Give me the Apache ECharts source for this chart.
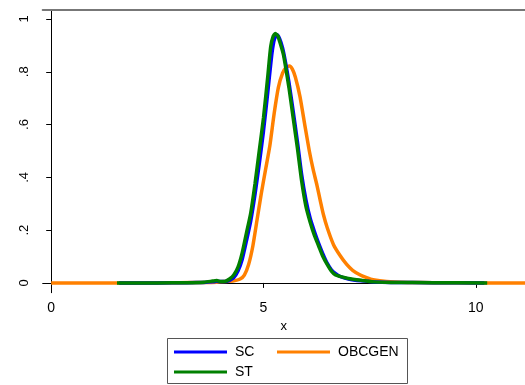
<!DOCTYPE html>
<html>
<head>
<meta charset="utf-8">
<script src="https://cdn.jsdelivr.net/npm/echarts@6/dist/echarts.min.js"></script>
<style>
  html, body { margin: 0; padding: 0; background: #fff; overflow: hidden; }
  #chart { width: 525px; height: 385px; }
</style>
</head>
<body>
<div id="chart"></div>
<script>
// kernel density estimates
const scX = [1.6, 2.5, 3.2, 3.6, 3.8, 3.9, 4.0, 4.1, 4.2, 4.3, 4.4, 4.5, 4.6, 4.7, 4.8, 4.9, 5.0, 5.1, 5.2, 5.26, 5.32, 5.38, 5.45, 5.52, 5.6, 5.7, 5.8, 5.9, 6.0, 6.1, 6.2, 6.3, 6.4, 6.5, 6.6, 6.7, 6.8, 7.0, 7.3, 7.6, 8.0, 9.0, 10.2];
const scY = [0, 0, 0.001, 0.002, 0.004, 0.006, 0.005, 0.005, 0.01, 0.02, 0.045, 0.09, 0.16, 0.235, 0.335, 0.45, 0.575, 0.72, 0.87, 0.925, 0.94, 0.925, 0.89, 0.835, 0.76, 0.65, 0.535, 0.41, 0.315, 0.245, 0.195, 0.15, 0.11, 0.075, 0.05, 0.035, 0.025, 0.015, 0.008, 0.004, 0.002, 0.001, 0];

const stX = [1.55, 2.5, 3.2, 3.6, 3.8, 3.9, 4.0, 4.1, 4.2, 4.3, 4.4, 4.5, 4.6, 4.7, 4.8, 4.9, 5.0, 5.1, 5.17, 5.23, 5.28, 5.34, 5.4, 5.47, 5.53, 5.6, 5.7, 5.8, 5.9, 6.0, 6.1, 6.2, 6.3, 6.4, 6.5, 6.6, 6.7, 6.8, 7.0, 7.3, 7.6, 8.0, 9.0, 10.27];
const stY = [0, 0, 0.001, 0.003, 0.007, 0.009, 0.005, 0.006, 0.015, 0.03, 0.06, 0.115, 0.19, 0.265, 0.375, 0.5, 0.625, 0.78, 0.895, 0.935, 0.945, 0.935, 0.905, 0.865, 0.81, 0.74, 0.625, 0.51, 0.385, 0.29, 0.23, 0.18, 0.14, 0.1, 0.07, 0.045, 0.03, 0.025, 0.017, 0.01, 0.004, 0.002, 0.001, 0];

const obcX = [0, 1, 2, 3, 3.6, 3.9, 4.1, 4.3, 4.45, 4.55, 4.65, 4.75, 4.85, 4.95, 5.05, 5.15, 5.25, 5.35, 5.45, 5.53, 5.61, 5.68, 5.75, 5.86, 5.98, 6.08, 6.17, 6.26, 6.34, 6.41, 6.5, 6.65, 6.8, 6.96, 7.1, 7.28, 7.43, 7.58, 7.9, 8.4, 9.0, 10.0, 11.16];
const obcY = [0, 0, 0, 0.001, 0.002, 0.003, 0.005, 0.008, 0.015, 0.03, 0.07, 0.14, 0.24, 0.34, 0.43, 0.52, 0.64, 0.74, 0.795, 0.815, 0.822, 0.81, 0.78, 0.706, 0.592, 0.5, 0.43, 0.37, 0.31, 0.26, 0.21, 0.145, 0.105, 0.07, 0.048, 0.03, 0.02, 0.012, 0.005, 0.002, 0.001, 0, 0];

const xTicks = [0, 5, 10];
const yTicks = [0, 0.2, 0.4, 0.6, 0.8, 1];
const yTickLabels = ["0", ".2", ".4", ".6", ".8", "1"];

const pairs = (xs, ys) => xs.map((x, i) => [x, ys[i]]);

const font = "Liberation Sans, Arial, sans-serif";
const chart = echarts.init(document.getElementById("chart"), null, { renderer: "canvas" });

const lineSeries = (name, color, xs, ys) => ({
  name,
  type: "line",
  data: pairs(xs, ys),
  showSymbol: false,
  smooth: 0.2,
  lineStyle: { color, width: 3.5 },
  itemStyle: { color },
  emphasis: { disabled: true },
});

const legendText = { fontFamily: font, fontSize: 14, color: "#000", lineHeight: 14, padding: [0, 0, 0, 3] };

chart.setOption({
  animation: false,
  backgroundColor: "#fff",
  grid: { left: 42.7, top: 10, right: 0, bottom: 92.3 },
  xAxis: [
    {
      type: "value",
      min: -0.2,
      max: 11.16,
      name: "x",
      nameLocation: "middle",
      nameGap: 24,
      nameTextStyle: { fontFamily: font, fontSize: 13, color: "#000" },
      axisLine: { lineStyle: { color: "#000", width: 1 } },
      axisTick: { show: true, length: 5, customValues: xTicks, lineStyle: { color: "#000" } },
      axisLabel: { customValues: xTicks, margin: 8, fontFamily: font, fontSize: 14, color: "#000" },
      splitLine: { show: false },
    },
    {
      // plain top border of the plot region
      type: "value",
      position: "top",
      min: -0.2,
      max: 11.16,
      axisLine: { lineStyle: { color: "#777", width: 2 } },
      axisTick: { show: false },
      axisLabel: { show: false },
      splitLine: { show: false },
    },
  ],
  yAxis: {
    type: "value",
    min: -0.037,
    max: 1.034,
    axisLine: { show: true, lineStyle: { color: "#000", width: 1 } },
    axisTick: { show: true, length: 5, customValues: yTicks, lineStyle: { color: "#000" } },
    axisLabel: {
      customValues: yTicks,
      rotate: 90,
      margin: 12,
      fontFamily: font,
      fontSize: 13,
      color: "#000",
      formatter: (v) => {
        const i = yTicks.findIndex((t) => Math.abs(t - v) < 1e-6);
        return i >= 0 ? yTickLabels[i] : "";
      },
    },
    splitLine: { show: false },
  },
  legend: [
    {
      data: ["SC", "ST"],
      orient: "vertical",
      left: 174, top: 345, padding: 0,
      itemWidth: 53, itemHeight: 3, itemGap: 6,
      icon: "rect",
      textStyle: legendText,
      selectedMode: false,
    },
    {
      data: ["OBCGEN"],
      left: 277, top: 345, padding: 0,
      itemWidth: 53, itemHeight: 3,
      icon: "rect",
      textStyle: legendText,
      selectedMode: false,
    },
  ],
  graphic: [
    {
      type: "rect",
      shape: { x: 167.5, y: 338.5, width: 240, height: 45 },
      style: { fill: "none", stroke: "#555", lineWidth: 1 },
      silent: true,
    },
  ],
  series: [
    lineSeries("OBCGEN", "#ff8000", obcX, obcY),
    lineSeries("SC", "#0000ff", scX, scY),
    lineSeries("ST", "#008000", stX, stY),
  ],
});
</script>
</body>
</html>
